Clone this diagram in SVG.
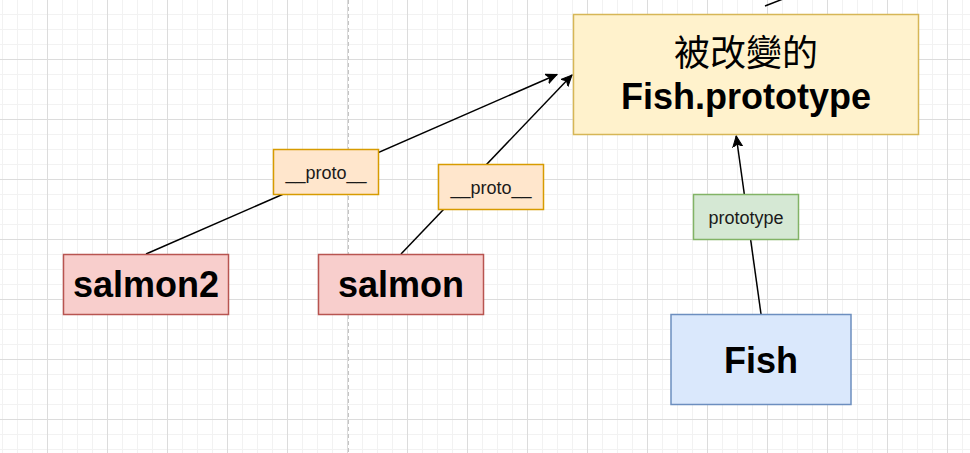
<svg xmlns="http://www.w3.org/2000/svg" width="970" height="453" viewBox="0 0 970 453">
<style>
.bold{font-family:"Liberation Sans",Arial,sans-serif;font-weight:bold;font-size:36px;fill:#000;text-anchor:middle}
.cjk{font-family:"Liberation Sans","Noto Sans CJK TC",sans-serif;font-size:36px;fill:#000;text-anchor:middle}
.lbl{font-family:"Liberation Sans",Arial,sans-serif;font-size:18px;fill:#1a1a1a;text-anchor:middle}
.edge{stroke:#000;stroke-width:1.5;fill:none}
</style>
<defs>
<pattern id="minor" x="2" y="-1" width="15" height="15" patternUnits="userSpaceOnUse">
<path d="M0.5,0 V15 M0,0.5 H15" stroke="#f2f2f2" stroke-width="1" fill="none"/>
</pattern>
<pattern id="major" x="47" y="59" width="60" height="60" patternUnits="userSpaceOnUse">
<path d="M0.5,0 V60 M0,0.5 H60" stroke="#dcdcdc" stroke-width="1" fill="none"/>
</pattern>
<marker id="arr" markerWidth="12" markerHeight="12" refX="11" refY="6" orient="auto" markerUnits="userSpaceOnUse">
<path d="M0,1 L11,6 L0,11 L3,6 Z" fill="#000" stroke="#000" stroke-width="1"/>
</marker>
</defs>
<rect width="970" height="453" fill="#fff"/>
<rect width="970" height="453" fill="url(#minor)"/>
<rect width="970" height="453" fill="url(#major)"/>
<line x1="348.5" y1="0" x2="348.5" y2="453" stroke="#c4c4c4" stroke-width="1" stroke-dasharray="4 3"/>
<g id="connectors">
<line class="edge" x1="146" y1="254" x2="557" y2="74.5" marker-end="url(#arr)"/>
<line class="edge" x1="401" y1="254" x2="572" y2="75" marker-end="url(#arr)"/>
<line class="edge" x1="761" y1="314" x2="736.2" y2="136" marker-end="url(#arr)"/>
<line class="edge" x1="765" y1="6" x2="783" y2="-1"/>
</g>
<g id="fish-prototype">
<rect x="573.5" y="14.5" width="345" height="120" fill="#fff2cc" stroke="#d6b656" stroke-width="1.5"/>
<text class="cjk" x="746" y="66">被改變的</text>
<text class="bold" x="746" y="108.5">Fish.prototype</text>
</g>
<g id="label-proto-1">
<rect x="273.5" y="149.5" width="105" height="45" fill="#ffe6cc" stroke="#d79b00" stroke-width="1.5"/>
<text class="lbl" x="326" y="178.5">__proto__</text>
</g>
<g id="label-proto-2">
<rect x="438.5" y="164.5" width="105" height="45" fill="#ffe6cc" stroke="#d79b00" stroke-width="1.5"/>
<text class="lbl" x="491" y="193.5">__proto__</text>
</g>
<g id="label-prototype">
<rect x="693.5" y="194.5" width="105" height="45" fill="#d5e8d4" stroke="#82b366" stroke-width="1.5"/>
<text class="lbl" x="746" y="223.5">prototype</text>
</g>
<g id="salmon2">
<rect x="63.5" y="254.5" width="165" height="60" fill="#f8cecc" stroke="#b85450" stroke-width="1.5"/>
<text class="bold" x="146" y="297">salmon2</text>
</g>
<g id="salmon">
<rect x="318.5" y="254.5" width="165" height="60" fill="#f8cecc" stroke="#b85450" stroke-width="1.5"/>
<text class="bold" x="401" y="297">salmon</text>
</g>
<g id="fish">
<rect x="671" y="314.5" width="180" height="90" fill="#dae8fc" stroke="#6c8ebf" stroke-width="1.5"/>
<text class="bold" x="761" y="372.5">Fish</text>
</g>
</svg>
